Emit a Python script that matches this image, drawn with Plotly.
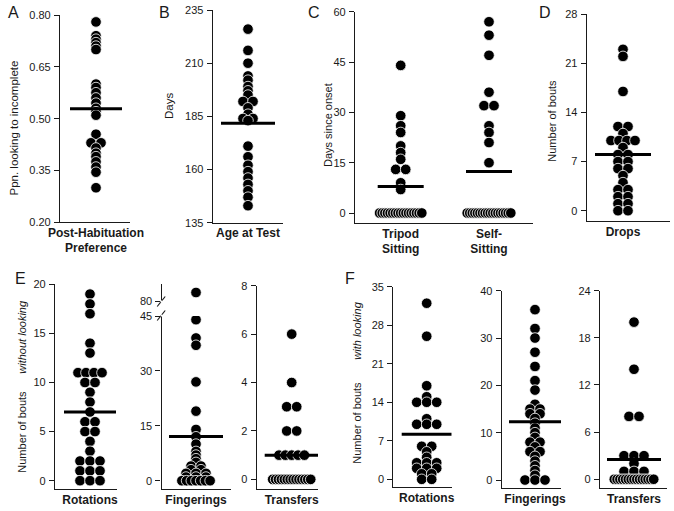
import plotly.graph_objects as go
from collections import defaultdict

W, H = 674, 511

# ---------------- data ----------------
ppn_incomplete = [0.78, 0.74, 0.73, 0.72, 0.71, 0.70, 0.60, 0.59, 0.575, 0.56, 0.545,
                  0.53, 0.52, 0.51, 0.455, 0.43, 0.43, 0.415, 0.40, 0.39, 0.375, 0.36,
                  0.345, 0.30]
ppn_mean = [0.529]

age_at_test = [226, 216, 210, 204, 202, 199, 197, 195, 192, 192, 189, 186, 184, 184,
               183, 171, 166, 162, 159, 156, 153, 150, 147, 143]
age_mean = [181.7]

tripod_sitting = [44, 29, 26, 24, 20, 18, 16, 13, 13, 9, 7,
                  0, 0, 0, 0, 0, 0, 0, 0, 0, 0, 0, 0, 0, 0, 0, 0, 0]
self_sitting = [57, 53, 47, 36, 32, 32, 26, 24, 21, 15,
                0, 0, 0, 0, 0, 0, 0, 0, 0, 0, 0, 0, 0, 0, 0, 0, 0, 0]
sitting_means = [7.9, 12.4]

drops = [23, 22, 17, 12, 12, 11, 10, 10, 10, 10, 9, 8, 8, 7, 7, 6, 6, 5, 4, 3, 3,
         2, 2, 1, 1, 0, 0]
drops_mean = [8.0]

rotations_without = [19, 18, 17, 14, 13, 11, 11, 11, 11, 10, 10, 9, 8, 7, 6, 6, 5, 5,
                     4, 3, 2, 2, 2, 1, 1, 1, 0, 0, 0]
fingerings_without = [90, 44, 39, 37, 27, 19, 14, 12, 10, 8, 7, 6, 5, 4, 4, 3, 3, 2,
                      2, 2, 1, 1, 1, 0, 0, 0, 0, 0, 0, 0]
transfers_without = [6, 4, 3, 3, 2, 2, 1, 1, 1, 1, 1,
                     0, 0, 0, 0, 0, 0, 0, 0, 0, 0, 0, 0, 0, 0]
without_means = [7.0, 12.1, 1.0]

rotations_with = [32, 26, 17, 15, 14, 14, 14, 11, 10, 10, 10, 6, 6, 5, 4, 3, 3, 3, 2,
                  2, 2, 1, 1, 0, 0]
fingerings_with = [36, 32, 30, 27, 24, 21, 19, 16, 15, 15, 14, 14, 13, 12, 11, 10, 9,
                   8, 8, 7, 6, 6, 5, 4, 3, 2, 1, 0, 0, 0]
transfers_with = [20, 14, 8, 8, 3, 3, 3, 2, 1, 1, 1,
                  0, 0, 0, 0, 0, 0, 0, 0, 0, 0, 0, 0, 0, 0, 0]
with_means = [8.2, 12.3, 2.5]

# ---------------- layout helpers ----------------
FONT = "Liberation Sans, Arial, Helvetica, sans-serif"
INK = "#1a1a1a"


def swarm_offsets(vals):
    """Spread points that share a value horizontally (pixels)."""
    groups = defaultdict(list)
    for i, v in enumerate(vals):
        groups[v].append(i)
    offs = [0.0] * len(vals)
    for v, idx in groups.items():
        n = len(idx)
        if n == 1:
            continue
        width = min(10.0 * (n - 1), 24 + 1.4 * (n - 4))
        for k, i in enumerate(idx):
            offs[i] = -width / 2 + width * k / (n - 1)
    return offs


def ref(prefix, k):
    return prefix if k == 1 else f"{prefix}{k}"


def lkey(prefix, k):
    return f"{prefix}axis" if k == 1 else f"{prefix}axis{k}"


fig = go.Figure()
layout = dict(template="none", width=W, height=H, autosize=False,
              margin=dict(l=0, r=0, t=0, b=0, pad=0),
              paper_bgcolor="white", plot_bgcolor="white", showlegend=False,
              font=dict(family=FONT, color=INK))

S = 100.0  # px per x unit for single-category panels

panels = [
    dict(k=1, box=(60, 130, 15, 222.3), yr=[0.20, 0.80], tv=[0.20, 0.35, 0.50, 0.65, 0.80], fmt=".2f",
         centers=[96], cats=["<b>Post-Habituation</b><br><b>Preference</b>"],
         series=[ppn_incomplete], means=ppn_mean, half=26),
    dict(k=2, box=(212.7, 283.3, 10, 222.7), yr=[135, 235], tv=[135, 160, 185, 210, 235], fmt="d",
         centers=[248], cats=["<b>Age at Test</b>"], series=[age_at_test], means=age_mean, half=27),
    dict(k=3, box=(355, 533, 11.7, 223.3), yr=[-3.07, 60], tv=[0, 15, 30, 45, 60], fmt="d",
         centers=[400.7, 489], cats=["<b>Tripod</b><br><b>Sitting</b>", "<b>Self-</b><br><b>Sitting</b>"],
         series=[tripod_sitting, self_sitting], means=sitting_means, half=23),
    dict(k=4, box=(586.7, 670, 14.3, 221), yr=[-1.47, 28], tv=[0, 7, 14, 21, 28], fmt="d",
         centers=[623], cats=["<b>Drops</b>"], series=[drops], means=drops_mean, half=28),
    dict(k=5, box=(55, 117, 284.3, 489.3), yr=[-0.88, 20], tv=[0, 5, 10, 15, 20], fmt="d",
         centers=[90], cats=["<b>Rotations</b>"], series=[rotations_without], means=without_means[0:1], half=26),
    dict(k=6, box=(161.5, 231, 316, 489.3), yr=[-2.35, 45], tv=[0, 15, 30, 45], fmt="d",
         centers=[196], cats=["<b>Fingerings</b>"], series=[[v for v in fingerings_without if v <= 45]],
         means=without_means[1:2], half=27),
    dict(k=8, box=(256.7, 318, 285.7, 489.3), yr=[-0.41, 8], tv=[0, 2, 4, 6, 8], fmt="d",
         centers=[291.7], cats=["<b>Transfers</b>"], series=[transfers_without], means=without_means[2:3], half=27),
    dict(k=9, box=(393.3, 451.7, 286.7, 487.3), yr=[-1.45, 35], tv=[0, 7, 14, 21, 28, 35], fmt="d",
         centers=[426.7], cats=["<b>Rotations</b>"], series=[rotations_with], means=with_means[0:1], half=25),
    dict(k=10, box=(501.7, 561, 290.7, 488.3), yr=[-1.75, 40], tv=[0, 10, 20, 30, 40], fmt="d",
         centers=[535], cats=["<b>Fingerings</b>"], series=[fingerings_with], means=with_means[1:2], half=26),
    dict(k=11, box=(600, 666.7, 290.7, 488.3), yr=[-1.15, 24], tv=[0, 6, 12, 18, 24], fmt="d",
         centers=[634], cats=["<b>Transfers</b>"], series=[transfers_with], means=with_means[2:3], half=27),
]

MARKER = dict(size=10.6, color="black", line=dict(color="white", width=0.8))


def yaxis_common(yr, tv, fmt, dom, anchor):
    return dict(domain=dom, range=yr, tickvals=tv,
                tickformat=".2f" if fmt == ".2f" else "d",
                showline=True, linecolor=INK, linewidth=1.2,
                ticks="outside", ticklen=5, tickwidth=1, tickcolor=INK,
                ticklabelstandoff=1,
                tickfont=dict(size=11, family=FONT, color=INK),
                showgrid=False, zeroline=False, anchor=anchor, fixedrange=True,
                automargin=False)


for p in panels:
    k = p["k"]
    x0, x1, yt, yb = p["box"]
    c0 = p["centers"][0]
    sc = S if len(p["centers"]) == 1 else (p["centers"][1] - p["centers"][0])
    xdom = [x0 / W, x1 / W]
    ydom = [1 - yb / H, 1 - yt / H]
    cat_pos = [(c - c0) / sc for c in p["centers"]]
    layout[lkey("x", k)] = dict(domain=xdom, range=[(x0 - c0) / sc, (x1 - c0) / sc],
                                tickvals=cat_pos, ticktext=p["cats"],
                                showline=True, linecolor=INK, linewidth=1.2,
                                ticks="", ticklabelstandoff=-1,
                                tickfont=dict(size=12, family=FONT, color=INK),
                                showgrid=False, zeroline=False, anchor=ref("y", k),
                                fixedrange=True, automargin=False)
    layout[lkey("y", k)] = yaxis_common(p["yr"], p["tv"], p["fmt"], ydom, ref("x", k))
    for ci, vals in enumerate(p["series"]):
        offs = swarm_offsets(vals)
        order = sorted(range(len(vals)), key=lambda i: (-vals[i], offs[i]))
        fig.add_trace(go.Scatter(
            x=[cat_pos[ci] + offs[i] / sc for i in order],
            y=[vals[i] for i in order],
            mode="markers", marker=MARKER, hoverinfo="skip",
            xaxis=ref("x", k), yaxis=ref("y", k)))
    for ci, m in enumerate(p["means"]):
        h = p["half"] / sc
        fig.add_trace(go.Scatter(x=[cat_pos[ci] - h, cat_pos[ci] + h], y=[m, m],
                                 mode="lines", line=dict(color="black", width=3),
                                 hoverinfo="skip", xaxis=ref("x", k), yaxis=ref("y", k)))

# upper segment of broken Fingerings axis (panel E)
upper_vals = [v for v in fingerings_without if v > 45]
layout[lkey("y", 7)] = yaxis_common([80, 100], [80], "d", [1 - 301 / H, 1 - 284 / H], "x6")
fig.add_trace(go.Scatter(x=[0 for _ in upper_vals], y=upper_vals, mode="markers",
                         marker=MARKER, hoverinfo="skip", xaxis="x6", yaxis="y7"))

# break marks
shapes = []
for yc in (301.5, 315.5):
    shapes.append(dict(type="line", xref="paper", yref="paper",
                       x0=157.2 / W, x1=165.2 / W, y0=1 - (yc + 5) / H, y1=1 - (yc - 5) / H,
                       line=dict(color=INK, width=1.2)))
    shapes.append(dict(type="line", xref="paper", yref="paper",
                       x0=161.5 / W, x1=161.5 / W, y0=1 - (yc + 1) / H, y1=1 - (yc - 1) / H,
                       line=dict(color="white", width=1.5)))
layout["shapes"] = shapes

ann = []


def txt(x, y, s, size, angle=0):
    ann.append(dict(x=x / W, y=1 - y / H, xref="paper", yref="paper", text=s,
                    showarrow=False, textangle=angle, xanchor="center", yanchor="middle",
                    font=dict(size=size, family=FONT, color=INK)))


# panel letters
for letter, (lx, ly) in {"A": (13, 13), "B": (164, 13), "C": (314, 13), "D": (545, 12),
                         "E": (20, 278), "F": (350, 278)}.items():
    txt(lx, ly, letter, 16)

# y-axis titles
txt(13.5, 128, "Ppn. looking to incomplete", 11.5, -90)
txt(169, 106, "Days", 11.5, -90)
txt(328, 125, "Days since onset", 11, -90)
txt(551.7, 121, "Number of bouts", 11, -90)
txt(21.7, 432, "Number of bouts", 11, -90)
txt(21.7, 337, "<i>without looking</i>", 11, -90)
txt(356.7, 423, "Number of bouts", 11, -90)
txt(356.7, 331, "<i>with looking</i>", 11, -90)
layout["annotations"] = ann

fig.update_layout(**layout)
fig.write_html("out.html", config={"displayModeBar": False},
               post_script="document.body.style.margin='0px';document.body.style.padding='0px';")
